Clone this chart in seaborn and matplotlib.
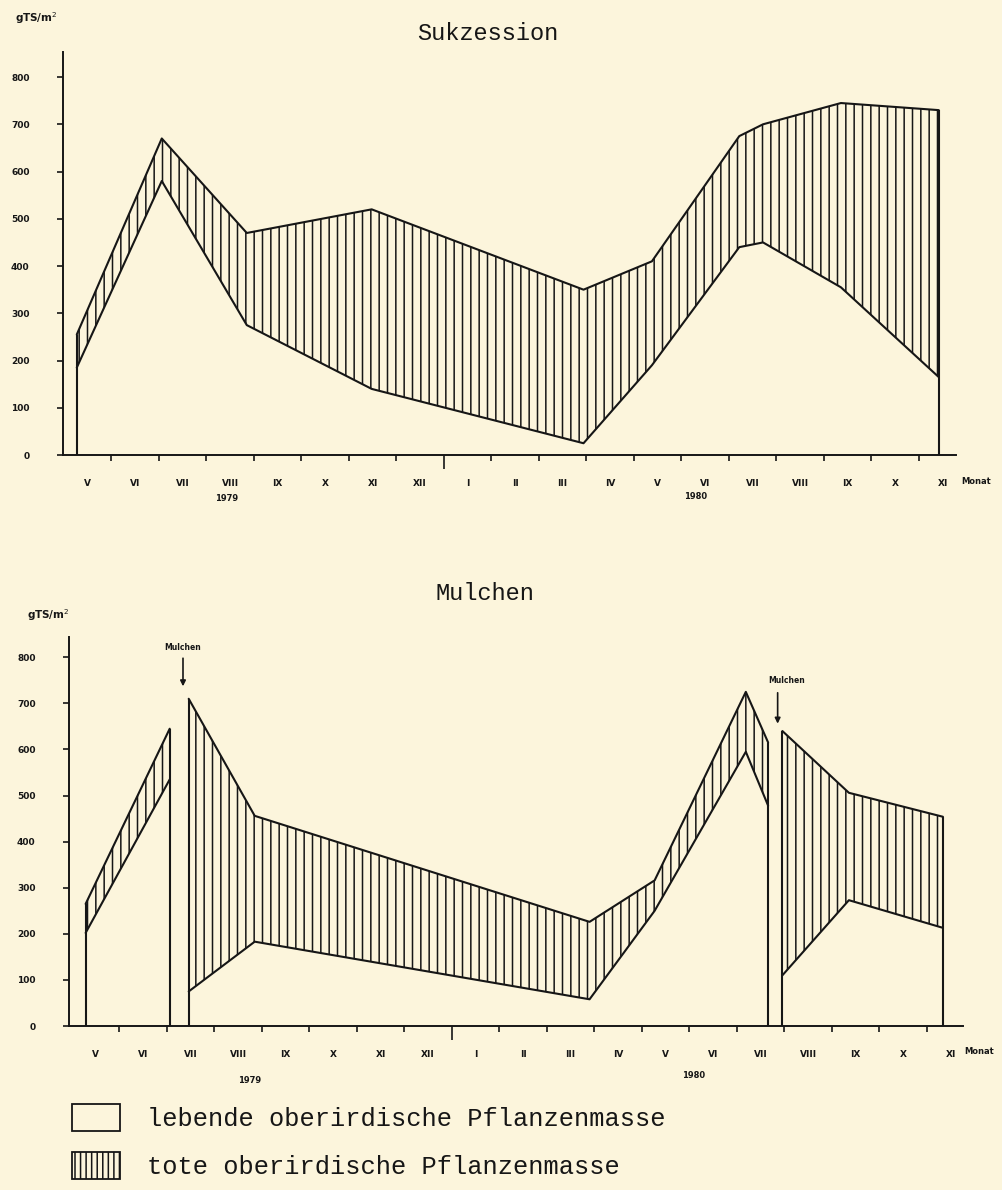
import matplotlib
matplotlib.use('Agg')
import matplotlib.pyplot as plt
from matplotlib.patches import Patch
import seaborn as sns
import numpy as np
import pandas as pd

# x positions are months counted from 1 May 1979
month_labels = ['V', 'VI', 'VII', 'VIII', 'IX', 'X', 'XI', 'XII', 'I', 'II', 'III',
                'IV', 'V', 'VI', 'VII', 'VIII', 'IX', 'X', 'XI']
y_ticks = [0, 100, 200, 300, 400, 500, 600, 700, 800]

# Sukzession: living and total above-ground plant mass (g TS/m2)
suk_month = [0.27, 2.06, 3.85, 6.48, 10.94, 12.38, 14.22, 14.72, 16.36, 18.42]
suk_live = [185, 580, 275, 140, 25, 190, 440, 450, 355, 165]
suk_total = [255, 670, 470, 520, 350, 410, 675, 700, 745, 730]

# Mulchen: three segments, split by the two mulching dates
mul_segment = [1, 1, 2, 2, 2, 2, 2, 2, 3, 3, 3]
mul_month = [0.29, 2.06, 2.46, 3.85, 10.9, 12.27, 14.19, 14.66, 14.96, 16.36, 18.34]
mul_live = [202, 535, 75, 183, 58, 250, 595, 478, 110, 273, 213]
mul_total = [265, 645, 710, 456, 226, 316, 725, 615, 640, 506, 454]

mulch_dates = [2.34, 14.86]

bg = '#fcf5dc'
ink = '#161616'

sns.set_theme(style='ticks', rc={
    'figure.facecolor': bg, 'axes.facecolor': bg, 'savefig.facecolor': bg,
    'axes.edgecolor': ink, 'axes.linewidth': 1.4, 'hatch.linewidth': 1.1,
    'hatch.color': ink, 'xtick.color': ink, 'ytick.color': ink,
    'text.color': ink,
})
plt.rcParams['font.family'] = ['DejaVu Sans']

suk = pd.DataFrame({'month': suk_month, 'live': suk_live, 'total': suk_total, 'segment': 1})
mul = pd.DataFrame({'month': mul_month, 'live': mul_live, 'total': mul_total, 'segment': mul_segment})

fig = plt.figure(figsize=(10.03, 11.9), dpi=100)
ax1 = fig.add_axes([0.0628, 0.6176, 0.8902, 0.3387])
ax2 = fig.add_axes([0.0688, 0.1378, 0.8912, 0.3269])


def draw_panel(ax, df, ymax, xlim, monat_x):
    for s, seg in df.groupby('segment'):
        ax.fill_between(seg['month'], seg['live'], seg['total'], facecolor='none',
                        edgecolor=ink, hatch='||', linewidth=0)
        sns.lineplot(data=seg, x='month', y='live', color=ink, lw=1.5, ax=ax,
                     estimator=None, sort=False)
        sns.lineplot(data=seg, x='month', y='total', color=ink, lw=1.5, ax=ax,
                     estimator=None, sort=False)
        ends = seg.iloc[[0, -1]]
        ax.vlines(ends['month'], 0, ends['total'], color=ink, lw=1.5)
    ax.set_xlim(*xlim)
    ax.set_ylim(0, ymax)
    ax.set_xlabel('')
    ax.set_ylabel('')
    sns.despine(ax=ax)

    ax.set_yticks(y_ticks)
    ax.tick_params(axis='y', length=4, width=1.2, pad=20, labelsize=6.5)
    ax.set_xticks(np.arange(1, 19))
    ax.set_xticklabels([])
    ax.set_xticks(np.arange(19) + 0.5, minor=True)
    ax.set_xticklabels(month_labels, minor=True)
    ax.tick_params(axis='x', which='major', length=4, width=1.2)
    ax.tick_params(axis='x', which='minor', length=0, pad=17, labelsize=6.5)
    ax.xaxis.get_major_ticks()[7].tick1line.set_markersize(10)
    for lab in ax.get_yticklabels() + ax.get_xticklabels(minor=True):
        lab.set_fontweight('bold')
    ax.text(monat_x, -0.065, 'Monat', transform=ax.get_xaxis_transform(), fontsize=6,
            fontweight='bold', ha='center', va='center', clip_on=False)


draw_panel(ax1, suk, 853, (-0.02, 18.78), 19.2)
draw_panel(ax2, mul, 844, (-0.06, 18.76), 19.1)

ax1.text(3.43, -0.108, '1979', transform=ax1.get_xaxis_transform(), fontsize=6,
         fontweight='bold', ha='center', va='center')
ax1.text(13.3, -0.104, '1980', transform=ax1.get_xaxis_transform(), fontsize=6,
         fontweight='bold', ha='center', va='center')
ax2.text(3.75, -0.139, '1979', transform=ax2.get_xaxis_transform(), fontsize=6,
         fontweight='bold', ha='center', va='center')
ax2.text(13.1, -0.126, '1980', transform=ax2.get_xaxis_transform(), fontsize=6,
         fontweight='bold', ha='center', va='center')

# mulching arrows
for m, top, tip, tx, ty in [(mulch_dates[0], 804, 731, 2.34, 822),
                            (mulch_dates[1], 729, 650, 15.05, 750)]:
    ax2.annotate('', xy=(m, tip), xytext=(m, top),
                 arrowprops=dict(arrowstyle='-|>', color=ink, lw=1.2, mutation_scale=8))
    ax2.text(tx, ty, 'Mulchen', fontsize=5.5, fontweight='bold', ha='center', va='center')

fig.text(0.486, 1 - 33 / 1190, 'Sukzession', family='Liberation Mono', fontsize=17,
         ha='center', va='center')
fig.text(0.483, 1 - 593 / 1190, 'Mulchen', family='Liberation Mono', fontsize=17,
         ha='center', va='center')
fig.text(0.015, 1 - 18 / 1190, 'gTS/m$^2$', fontsize=7.5, fontweight='bold', va='center')
fig.text(0.027, 1 - 615 / 1190, 'gTS/m$^2$', fontsize=7.5, fontweight='bold', va='center')

handles = [Patch(facecolor='none', edgecolor=ink, linewidth=1.3),
           Patch(facecolor='none', edgecolor=ink, linewidth=1.3, hatch='|||')]
fig.legend(handles, ['lebende oberirdische Pflanzenmasse', 'tote oberirdische Pflanzenmasse'],
           loc='upper left', bbox_to_anchor=(0.059, 1 - 1091 / 1190), frameon=False,
           prop={'family': 'Liberation Mono', 'size': 18.3}, handlelength=1.9,
           handleheight=1.25, handletextpad=1.05, labelspacing=0.85, borderpad=0)

fig.savefig('out.png', dpi=100)
